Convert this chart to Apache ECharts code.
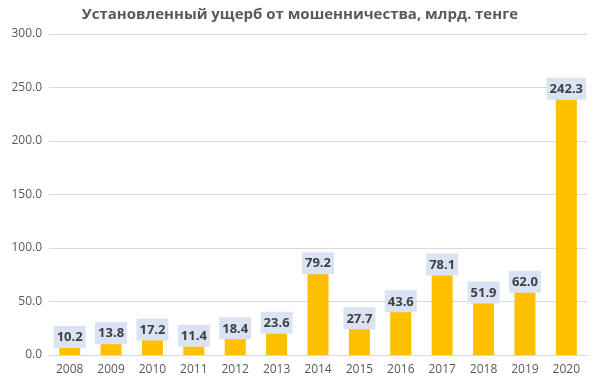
<!DOCTYPE html>
<html><head><meta charset="utf-8">
<script src="https://cdn.jsdelivr.net/npm/echarts@6/dist/echarts.min.js"></script>
<style>html,body{margin:0;padding:0;background:#fff}#c{width:600px;height:391px}</style>
</head><body><div id="c"></div>
<script>
const categories = ['2008','2009','2010','2011','2012','2013','2014','2015','2016','2017','2018','2019','2020'];
const values = [10.2,13.8,17.2,11.4,18.4,23.6,79.2,27.7,43.6,78.1,51.9,62.0,242.3];
const titleText = 'Установленный ущерб от мошенничества, млрд. тенге';
const chart = echarts.init(document.getElementById('c'), null, {renderer:'canvas'});
chart.setOption({
  animation:false,
  backgroundColor:'#fff',
  title:{text:titleText,left:'center',top:2,textStyle:{fontFamily:'Open Sans',fontSize:15,fontWeight:'bold',color:'#595959'}},
  grid:{left:49,right:13,top:34,bottom:36},
  xAxis:{type:'category',data:categories,
    axisLine:{lineStyle:{color:'#D9D9D9'}},axisTick:{show:false},
    axisLabel:{color:'#595959',fontFamily:'Open Sans',fontSize:12,margin:9}},
  yAxis:{type:'value',min:0,max:300,interval:50,
    axisLine:{show:false},axisTick:{show:false},
    splitLine:{lineStyle:{color:'#D9D9D9'}},
    axisLabel:{color:'#595959',fontFamily:'Open Sans',fontSize:12,margin:7,formatter:v=>v.toFixed(1)}},
  series:[{type:'bar',data:values,barWidth:21,itemStyle:{color:'#FFC000'},
    label:{show:true,position:'top',distance:-4,formatter:p=>p.value.toFixed(1),
      backgroundColor:'#DAE3F3',padding:[5,3,4,3],color:'#404040',fontFamily:'Open Sans',fontSize:13,fontWeight:'bold'}}]
});
</script></body></html>
